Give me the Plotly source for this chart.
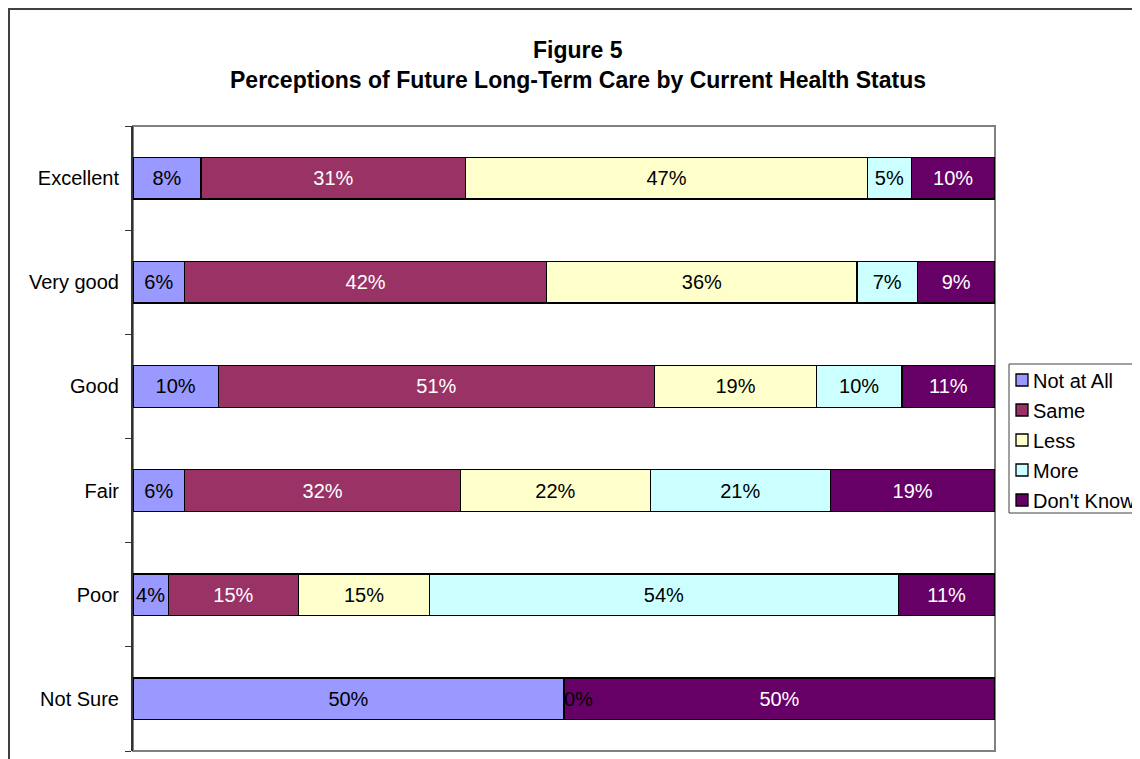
import plotly.graph_objects as go

categories = ["Excellent", "Very good", "Good", "Fair", "Poor", "Not Sure"]
not_at_all = [7.9, 6.0, 9.9, 6.0, 4.1, 50.0]
same = [30.7, 42.0, 50.6, 32.0, 15.1, 0.0]
less = [46.6, 36.0, 18.8, 22.0, 15.2, 0.0]
more = [5.1, 7.0, 9.9, 20.9, 54.4, 0.0]
dont_know = [9.7, 9.0, 10.8, 19.1, 11.2, 50.0]

series_names = ["Not at All", "Same", "Less", "More", "Don't Know"]
series_values = [not_at_all, same, less, more, dont_know]
series_colors = ["#9999FF", "#993366", "#FFFFCC", "#CCFFFF", "#660066"]
label_colors = ["black", "white", "black", "black", "white"]

# page body has an 8px margin; work in reference-page pixels
OFF = 8
W, H = 1140, 759
L, R, T, B = 133 - OFF, 995 - OFF, 126 - OFF, 751 - OFF
pw, ph = R - L, B - T


def px(x):
    return (x - OFF - L) / pw


def py(y):
    return (B - (y - OFF)) / ph


FONT = "Liberation Sans, Arial, sans-serif"
FS = 20

fig = go.Figure()
for name, vals, color, tcolor in zip(series_names, series_values, series_colors, label_colors):
    texts = [("" if v == 0 else f"{v:.0f}%") for v in vals]
    fig.add_trace(go.Bar(
        y=categories, x=vals, name=name, orientation="h",
        marker=dict(color=color, line=dict(color="black", width=1.3)),
        text=texts, textposition="inside", insidetextanchor="middle",
        textfont=dict(color=tcolor, size=FS, family=FONT),
        width=0.4, showlegend=False,
    ))

# "0%" label for the zero-width segment in the Not Sure row
ns = len(categories) - 1
cum = not_at_all[ns] + same[ns] + less[ns] + more[ns]
fig.add_annotation(x=cum, y=categories[ns], xref="x", yref="y",
                   text=f"{more[ns]:.0f}%", showarrow=False, xanchor="left",
                   xshift=-2, font=dict(size=FS, color="black", family=FONT))

# titles
fig.add_annotation(x=px(578), y=py(50), xref="paper", yref="paper",
                   text="<b>Figure 5</b>", showarrow=False, yanchor="middle",
                   font=dict(size=23, color="black", family=FONT))
fig.add_annotation(x=px(578), y=py(80), xref="paper", yref="paper",
                   text="<b>Perceptions of Future Long-Term Care by Current Health Status</b>",
                   showarrow=False, yanchor="middle",
                   font=dict(size=23, color="black", family=FONT))

# outer chart border (extends beyond the page at right/bottom)
fig.add_shape(type="rect", xref="paper", yref="paper",
              x0=px(9), x1=px(1180), y0=py(9), y1=py(800),
              line=dict(color="#404040", width=2), layer="below")
# plot area border
fig.add_shape(type="rect", xref="paper", yref="paper", x0=0, x1=1, y0=0, y1=1,
              line=dict(color="#808080", width=2), layer="below")

# legend (box, swatches, labels)
fig.add_shape(type="rect", xref="paper", yref="paper",
              x0=px(1009), x1=px(1200), y0=py(364), y1=py(513),
              line=dict(color="#404040", width=1), fillcolor="white")
for i, (name, color) in enumerate(zip(series_names, series_colors)):
    cy = 380 + 30 * i
    fig.add_shape(type="rect", xref="paper", yref="paper",
                  x0=px(1016), x1=px(1028), y0=py(cy - 6), y1=py(cy + 6),
                  line=dict(color="black", width=1.3), fillcolor=color)
    fig.add_annotation(x=px(1031), y=py(cy + 1), xref="paper", yref="paper",
                       text=name, showarrow=False, xanchor="left", yanchor="middle",
                       font=dict(size=FS, color="black", family=FONT))

fig.update_layout(
    width=W, height=H,
    margin=dict(l=L, r=W - R, t=T, b=H - B, autoexpand=False),
    barmode="stack",
    paper_bgcolor="white", plot_bgcolor="white",
    font=dict(family=FONT, size=FS, color="black"),
    showlegend=False,
    xaxis=dict(range=[0, 100], showticklabels=False, showgrid=False,
               zeroline=False, ticks="", fixedrange=True),
    yaxis=dict(categoryorder="array", categoryarray=categories[::-1],
               showline=True, linecolor="#333333", linewidth=2,
               ticks="outside", tickson="boundaries", ticklen=6,
               tickcolor="#333333", tickwidth=1, showgrid=False,
               ticklabelstandoff=8, automargin=False),
)

fig.write_html("out.html")
